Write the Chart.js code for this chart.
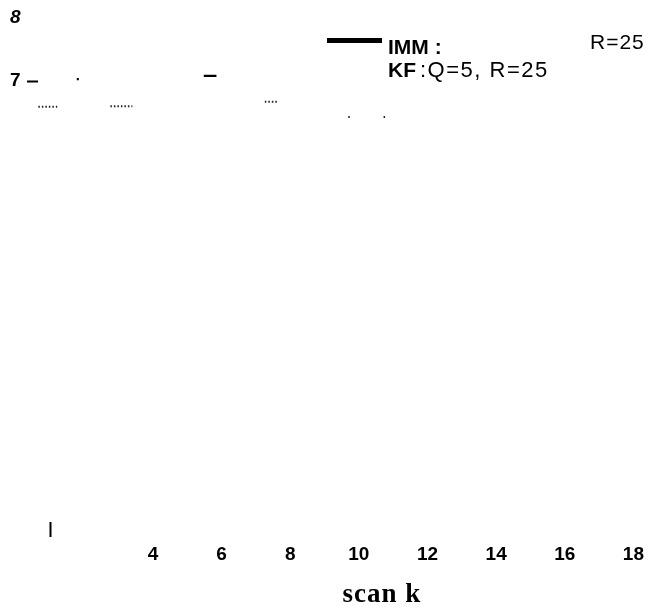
<!DOCTYPE html>
<html>
<head>
<meta charset="utf-8">
<script src="https://cdn.jsdelivr.net/npm/chart.js@4.4.1/dist/chart.umd.min.js"></script>
<style>
  html, body { margin: 0; padding: 0; background: #fff; }
  #wrap { position: relative; width: 650px; height: 608px; }
</style>
</head>
<body>
<div id="wrap"><canvas id="c" width="650" height="608"></canvas></div>
<script>
// ---- data (only visible fragments) ----
const xTicks = [1, 4, 6, 8, 10, 12, 14, 16, 18];
const yTicks = [7, 8];
const immX = [1.78, 1.84, 2.5, 5.48, 5.85];
const immY = [7.03, 7.03, null, 7.08, 7.08];
const kfX = [0.66, 1.21, 2.0, 2.76, 3.40, 5.0, 7.26, 7.61, 8.5, 9.69, 9.74, 10.2, 10.72, 10.77];
const kfY = [6.59, 6.59, null, 6.60, 6.60, null, 6.67, 6.67, null, 6.43, 6.43, null, 6.43, 6.43];
const immLabel = 'IMM :';
const immParam = 'R=25';
const kfLabel = 'KF';
const kfParam = ':Q=5, R=25';
const xTitle = 'scan k';

const toPts = (xs, ys) => xs.map((x, i) => ({ x: x, y: ys[i] }));

const overlay = {
  id: 'overlay',
  afterDraw(chart) {
    const ctx = chart.ctx;
    ctx.save();
    ctx.fillStyle = '#000';
    ctx.textBaseline = 'alphabetic';
    // legend sample (IMM, solid)
    ctx.fillRect(327, 38, 55, 5);
    ctx.font = 'bold 21px "Liberation Sans", Arial, sans-serif';
    ctx.fillText(immLabel, 388, 54);
    ctx.fillText(kfLabel, 388, 77);
    ctx.font = '21px "Liberation Sans", Arial, sans-serif';
    ctx.letterSpacing = '1px';
    ctx.fillText(immParam, 590, 49);
    ctx.font = '22px "Liberation Sans", Arial, sans-serif';
    ctx.letterSpacing = '1.5px';
    ctx.fillText(kfParam, 420, 77);
    ctx.letterSpacing = '1px';
    ctx.font = 'bold 27px "Liberation Serif", "Times New Roman", serif';
    ctx.textAlign = 'center';
    ctx.fillText(xTitle, 382, 602);
    ctx.restore();
  }
};

new Chart(document.getElementById('c'), {
  type: 'line',
  data: {
    datasets: [
      {
        label: 'IMM',
        data: toPts(immX, immY),
        borderColor: '#000',
        borderWidth: 2.2,
        pointRadius: 0,
        spanGaps: false,
        tension: 0
      },
      {
        label: 'KF',
        data: toPts(kfX, kfY),
        borderColor: '#222',
        borderWidth: 2,
        borderDash: [1.5, 2],
        pointRadius: 0,
        spanGaps: false,
        tension: 0
      }
    ]
  },
  options: {
    responsive: false,
    animation: false,
    devicePixelRatio: 1,
    layout: { padding: { left: 10, right: 2, top: 18, bottom: 0 } },
    plugins: { legend: { display: false }, tooltip: { enabled: false } },
    scales: {
      x: {
        type: 'linear',
        min: 0.65,
        max: 18.24,
        border: { display: false },
        grid: {
          drawOnChartArea: false,
          drawTicks: true,
          tickLength: 15,
          tickWidth: 2,
          color: (c) => (c.tick && c.tick.value === 1 ? '#000' : 'rgba(0,0,0,0)')
        },
        afterBuildTicks: (s) => { s.ticks = xTicks.map(v => ({ value: v })); },
        afterFit: (s) => { s.height = 86; },
        ticks: {
          padding: 6,
          color: '#000',
          maxRotation: 0,
          autoSkip: false,
          font: { family: '"Liberation Sans", Arial, sans-serif', size: 19, weight: 'bold' },
          callback: (v) => (v === 1 ? '' : String(v))
        }
      },
      y: {
        type: 'linear',
        min: 0,
        max: 8,
        border: { display: false },
        grid: {
          drawOnChartArea: false,
          drawTicks: true,
          tickLength: 11,
          tickWidth: 2,
          color: (c) => (c.tick && c.tick.value === 7 ? '#000' : 'rgba(0,0,0,0)')
        },
        afterBuildTicks: (s) => { s.ticks = yTicks.map(v => ({ value: v })); },
        afterFit: (s) => { s.width = 28; },
        ticks: {
          crossAlign: 'far',
          color: '#000',
          font: (c) => ({
            family: '"Liberation Sans", Arial, sans-serif',
            size: 19,
            weight: 'bold',
            style: (c.tick && c.tick.value === 8) ? 'italic' : 'normal'
          }),
          callback: (v) => String(v)
        }
      }
    }
  },
  plugins: [overlay]
});
</script>
</body>
</html>
